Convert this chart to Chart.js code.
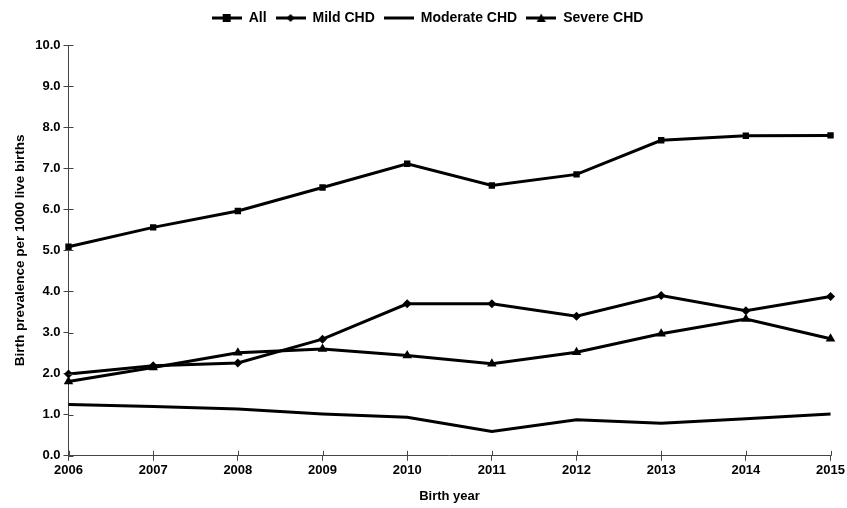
<!DOCTYPE html>
<html>
<head>
<meta charset="utf-8">
<script src="https://cdn.jsdelivr.net/npm/chart.js@4"></script>
<style>
  html, body { margin: 0; padding: 0; background: #fff; }
  #wrap { width: 847px; height: 508px; }
</style>
</head>
<body>
<div id="wrap"><canvas id="chd"></canvas></div>
<script>
// data
const years = ['2006', '2007', '2008', '2009', '2010', '2011', '2012', '2013', '2014', '2015'];
const allChd = [5.09, 5.56, 5.96, 6.53, 7.11, 6.58, 6.85, 7.68, 7.79, 7.80];
const mildChd = [1.99, 2.19, 2.26, 2.84, 3.70, 3.70, 3.40, 3.90, 3.53, 3.88];
const moderateChd = [1.25, 1.20, 1.14, 1.02, 0.94, 0.59, 0.88, 0.79, 0.90, 1.02];
const severeChd = [1.81, 2.15, 2.51, 2.60, 2.44, 2.24, 2.52, 2.97, 3.33, 2.85];
const seriesNames = ['All', 'Mild CHD', 'Moderate CHD', 'Severe CHD'];

const font = "'Liberation Sans', Arial, sans-serif";

// small legend picture: line with the marker on it
function legendIcon(style) {
  const c = document.createElement('canvas');
  c.width = 30; c.height = 10;
  const ctx = c.getContext('2d');
  ctx.fillStyle = '#000';
  ctx.fillRect(0, 3.5, 30, 3);
  ctx.beginPath();
  if (style === 'rect') {
    ctx.rect(11, 1, 8, 8);
  } else if (style === 'rectRot') {
    ctx.moveTo(15, 1); ctx.lineTo(19, 5); ctx.lineTo(15, 9); ctx.lineTo(11, 5);
  } else if (style === 'triangle') {
    ctx.moveTo(15, 0.5); ctx.lineTo(19.5, 9); ctx.lineTo(10.5, 9);
  }
  ctx.closePath();
  ctx.fill();
  return c;
}

function makeSet(label, data, style, radius) {
  return {
    label: label,
    data: data,
    borderColor: '#000',
    backgroundColor: '#000',
    borderWidth: 3,
    pointStyle: style,
    pointRadius: radius,
    pointHoverRadius: radius,
    pointBorderWidth: 0,
    tension: 0,
    legendStyle: style
  };
}

// more room under the legend
const legendGap = {
  id: 'legendGap',
  beforeInit(chart) {
    const fit = chart.legend.fit;
    chart.legend.fit = function () {
      fit.bind(chart.legend)();
      this.height += 10;
    };
  }
};

// ticks that also cross into the plot
const innerTicks = {
  id: 'innerTicks',
  afterDraw(chart) {
    const ctx = chart.ctx;
    const x = chart.scales.x, y = chart.scales.y;
    ctx.save();
    ctx.strokeStyle = '#444';
    ctx.lineWidth = 1;
    ctx.beginPath();
    y.ticks.forEach((t, i) => {
      const py = Math.round(y.getPixelForTick(i)) + 0.5;
      ctx.moveTo(x.left, py); ctx.lineTo(x.left + 5, py);
    });
    x.ticks.forEach((t, i) => {
      const px = Math.round(x.getPixelForTick(i)) + 0.5;
      ctx.moveTo(px, y.bottom); ctx.lineTo(px, y.bottom - 5);
    });
    ctx.stroke();
    ctx.restore();
  }
};

new Chart(document.getElementById('chd'), {
  type: 'line',
  data: {
    labels: years,
    datasets: [
      makeSet(seriesNames[0], allChd, 'rect', 4.5),
      makeSet(seriesNames[1], mildChd, 'rectRot', 4.5),
      makeSet(seriesNames[2], moderateChd, false, 0),
      makeSet(seriesNames[3], severeChd, 'triangle', 5.5)
    ]
  },
  options: {
    responsive: true,
    maintainAspectRatio: false,
    animation: false,
    layout: { padding: { left: 8, right: 0, top: 2, bottom: 2 } },
    plugins: {
      tooltip: { enabled: false },
      legend: {
        position: 'top',
        labels: {
          usePointStyle: true,
          pointStyleWidth: 30,
          padding: 9,
          color: '#000',
          font: { family: font, size: 14, weight: 'bold' },
          generateLabels(chart) {
            return chart.data.datasets.map((ds, i) => ({
              text: ds.label,
              pointStyle: legendIcon(ds.legendStyle),
              fillStyle: '#000',
              strokeStyle: '#000',
              lineWidth: 0,
              datasetIndex: i,
              hidden: false
            }));
          }
        }
      }
    },
    scales: {
      x: {
        offset: false,
        grid: { display: true, drawOnChartArea: false, tickLength: 5, color: '#444' },
        border: { color: '#444', width: 1 },
        ticks: { color: '#000', maxRotation: 0, padding: 2, font: { family: font, size: 13, weight: 'bold' } },
        title: { display: true, text: 'Birth year', color: '#000', padding: { top: 8, bottom: 2 }, font: { family: font, size: 13, weight: 'bold' } }
      },
      y: {
        min: 0,
        max: 10,
        grid: { display: true, drawOnChartArea: false, tickLength: 5, color: '#444' },
        border: { color: '#444', width: 1 },
        ticks: {
          stepSize: 1,
          color: '#000',
          padding: 3,
          font: { family: font, size: 13, weight: 'bold' },
          callback: v => v.toFixed(1)
        },
        title: { display: true, text: 'Birth prevalence per 1000 live births', color: '#000', padding: { bottom: 4 }, font: { family: font, size: 13.5, weight: 'bold' } }
      }
    }
  },
  plugins: [legendGap, innerTicks]
});
</script>
</body>
</html>
